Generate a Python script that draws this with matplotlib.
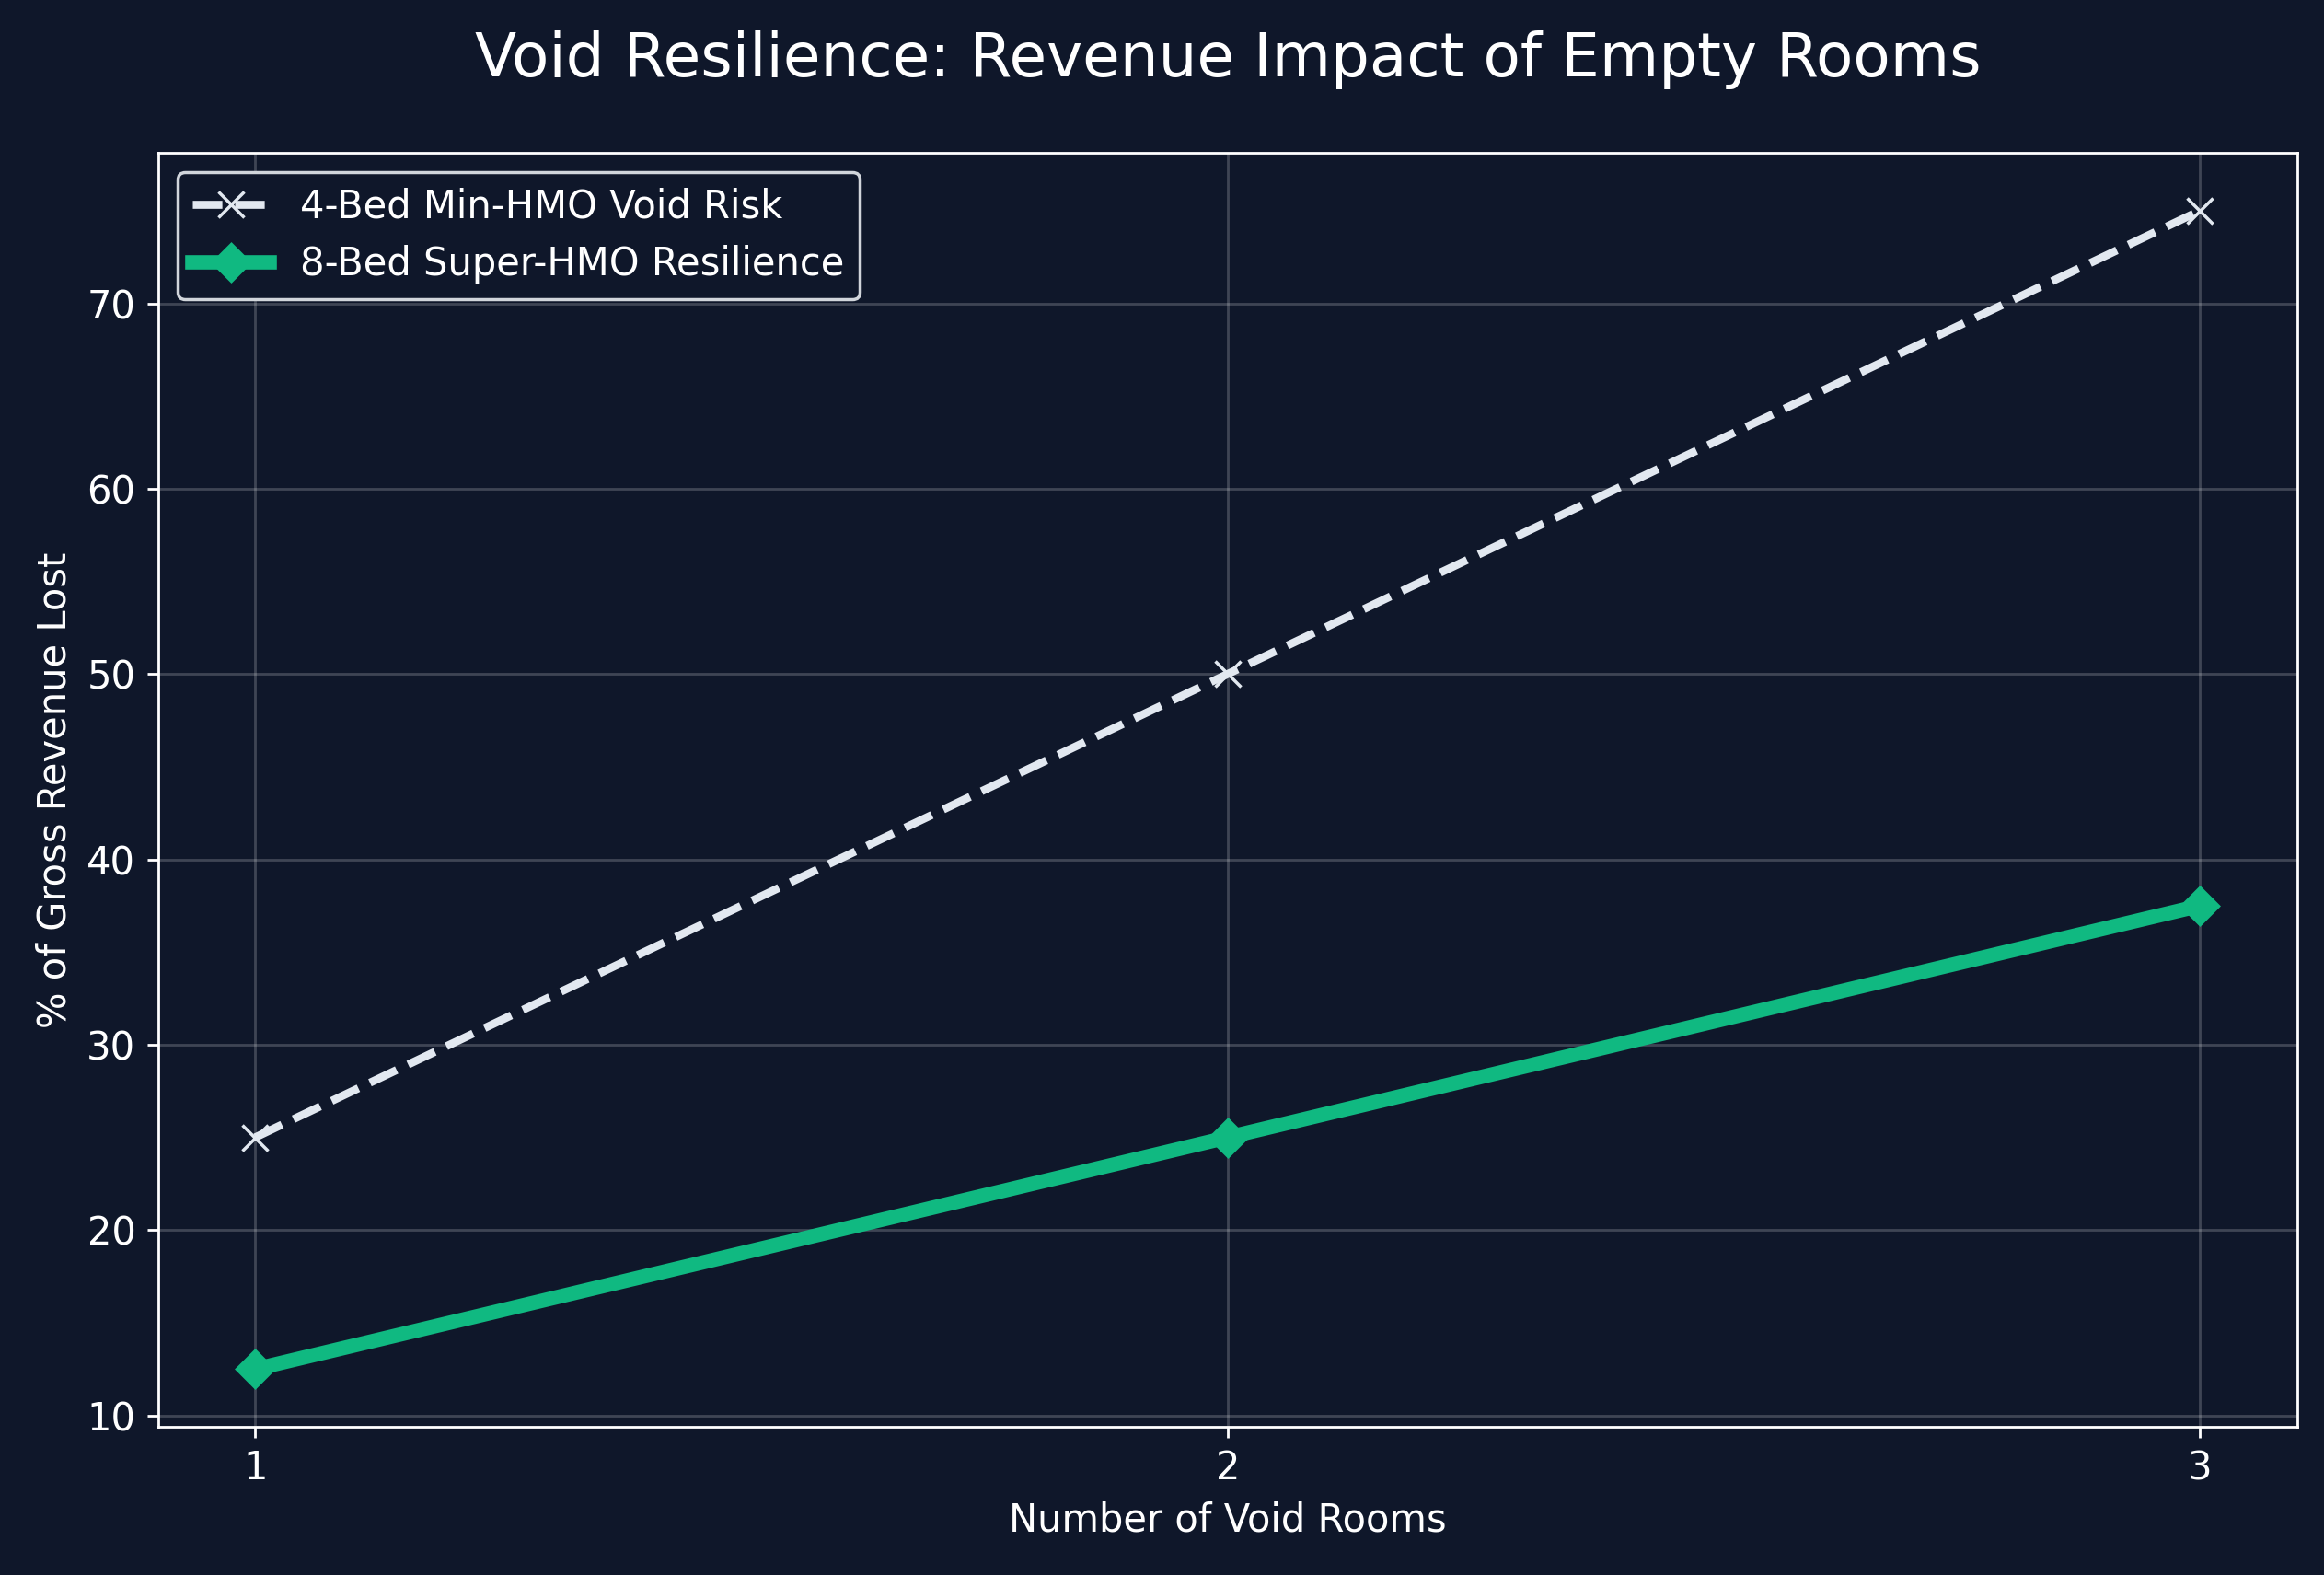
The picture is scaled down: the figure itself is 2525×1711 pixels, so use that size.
import matplotlib.pyplot as plt

void_rooms = [1, 2, 3]
hmo_4bed = [25, 50, 75]
hmo_8bed = [12.5, 25, 37.5]

bg = '#0f172a'
fig, ax = plt.subplots(figsize=(10.1, 6.844), dpi=250)
fig.patch.set_facecolor(bg)
ax.set_facecolor(bg)

ax.plot(void_rooms, hmo_4bed, color='#e2e8f0', linestyle='--', linewidth=2.5,
        marker='x', markersize=8, label='4-Bed Min-HMO Void Risk')
ax.plot(void_rooms, hmo_8bed, color='#10b981', linewidth=4.5,
        marker='D', markersize=8, label='8-Bed Super-HMO Resilience')

ax.set_title('Void Resilience: Revenue Impact of Empty Rooms', color='white', fontsize=19, pad=24)
ax.set_xlabel('Number of Void Rooms', color='white', fontsize=12)
ax.set_ylabel('% of Gross Revenue Lost', color='white', fontsize=12)
ax.set_xticks(void_rooms)
ax.tick_params(colors='white', labelsize=12)
for s in ax.spines.values():
    s.set_color('white')
ax.grid(True, color='white', alpha=0.2)

leg = ax.legend(loc='upper left', fontsize=12, facecolor=bg, edgecolor='#d1d5db', labelcolor='white')
leg.get_frame().set_alpha(1)

fig.subplots_adjust(left=0.068, right=0.9885, top=0.903, bottom=0.094)
plt.savefig('out.png', facecolor=bg)
